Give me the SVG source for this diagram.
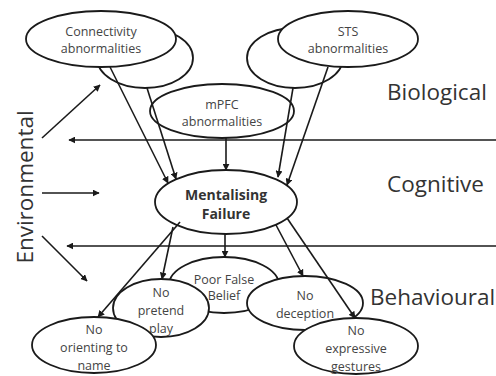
<svg xmlns="http://www.w3.org/2000/svg" width="496" height="376" viewBox="0 0 496 376">
<style>
.n ellipse{fill:#fff;stroke:#1a1a1a;stroke-width:1.8}
.t{font-family:"Open Sans","Liberation Sans",sans-serif;font-size:12.5px;fill:#444;text-anchor:middle}
.b{font-weight:bold;font-size:14px;fill:#333}
.lab{font-family:"Open Sans","Liberation Sans",sans-serif;font-size:22.5px;fill:#333}
#connectors line{stroke:#1a1a1a;stroke-width:1.6;fill:none}
</style>
<defs>
<marker id="ah" viewBox="0 0 10 10" refX="9" refY="5" markerWidth="7" markerHeight="7" markerUnits="userSpaceOnUse" orient="auto">
<path d="M0,0 L10,5 L0,10 z" fill="#1a1a1a"/>
</marker>
</defs>
<rect width="496" height="376" fill="#fff"/>

<g id="connectivity-back" class="n"><ellipse cx="145" cy="58" rx="48" ry="30"/></g>
<g id="sts-back" class="n"><ellipse cx="295" cy="58" rx="48" ry="30"/></g>
<g id="connectivity" class="n"><ellipse cx="101" cy="39" rx="75" ry="28"/>
<text class="t" x="101" y="36">Connectivity</text><text class="t" x="101" y="53">abnormalities</text></g>
<g id="sts" class="n"><ellipse cx="348" cy="39" rx="70" ry="28"/>
<text class="t" x="348" y="36">STS</text><text class="t" x="348" y="53">abnormalities</text></g>
<g id="mpfc" class="n"><ellipse cx="222" cy="111" rx="72" ry="27"/>
<text class="t" x="222" y="109">mPFC</text><text class="t" x="222" y="126">abnormalities</text></g>
<g id="mentalising" class="n"><ellipse cx="226" cy="202" rx="71" ry="32"/>
<text class="t b" x="226" y="200">Mentalising</text><text class="t b" x="226" y="219">Failure</text></g>
<g id="poor-false-belief" class="n"><ellipse cx="224" cy="285" rx="55" ry="28"/>
<text class="t" x="224" y="284">Poor False</text><text class="t" x="224" y="300">Belief</text></g>
<g id="no-deception" class="n"><ellipse cx="305" cy="303" rx="58" ry="27"/>
<text class="t" x="305" y="300">No</text><text class="t" x="305" y="318">deception</text></g>
<g id="no-expressive-gestures" class="n"><ellipse cx="356" cy="346" rx="62" ry="28"/>
<text class="t" x="356" y="335">No</text><text class="t" x="356" y="353">expressive</text><text class="t" x="356" y="371">gestures</text></g>
<g id="no-pretend-play" class="n"><ellipse cx="161" cy="308" rx="48" ry="29"/>
<text class="t" x="161" y="297">No</text><text class="t" x="161" y="315">pretend</text><text class="t" x="161" y="333">play</text></g>
<g id="no-orienting" class="n"><ellipse cx="94" cy="345" rx="62" ry="28"/>
<text class="t" x="94" y="334">No</text><text class="t" x="94" y="352">orienting to</text><text class="t" x="94" y="370">name</text></g>

<g id="connectors">
<line x1="110" y1="67" x2="168" y2="183" marker-end="url(#ah)"/>
<line x1="147" y1="88" x2="176" y2="179" marker-end="url(#ah)"/>
<line x1="293" y1="88" x2="278" y2="177" marker-end="url(#ah)"/>
<line x1="328" y1="67" x2="287" y2="185" marker-end="url(#ah)"/>
<line x1="226" y1="138" x2="226" y2="170" marker-end="url(#ah)"/>
<line x1="225" y1="234" x2="225" y2="257" marker-end="url(#ah)"/>
<line x1="180" y1="222" x2="98" y2="317" marker-end="url(#ah)"/>
<line x1="173" y1="227" x2="162" y2="279" marker-end="url(#ah)"/>
<line x1="276" y1="225" x2="303" y2="276" marker-end="url(#ah)"/>
<line x1="287" y1="218" x2="355" y2="318" marker-end="url(#ah)"/>
<line x1="496" y1="140" x2="69" y2="140" marker-end="url(#ah)"/>
<line x1="496" y1="246" x2="67" y2="246" marker-end="url(#ah)"/>
<line x1="42" y1="138" x2="100" y2="85" marker-end="url(#ah)"/>
<line x1="42" y1="193" x2="99" y2="193" marker-end="url(#ah)"/>
<line x1="42" y1="236" x2="87" y2="281" marker-end="url(#ah)"/>
</g>

<text class="lab" x="387" y="100">Biological</text>
<text class="lab" x="387" y="192">Cognitive</text>
<text class="lab" x="370" y="305">Behavioural</text>
<text class="lab" transform="translate(33,187) rotate(-90)" text-anchor="middle" font-size="21.5">Environmental</text>
</svg>
